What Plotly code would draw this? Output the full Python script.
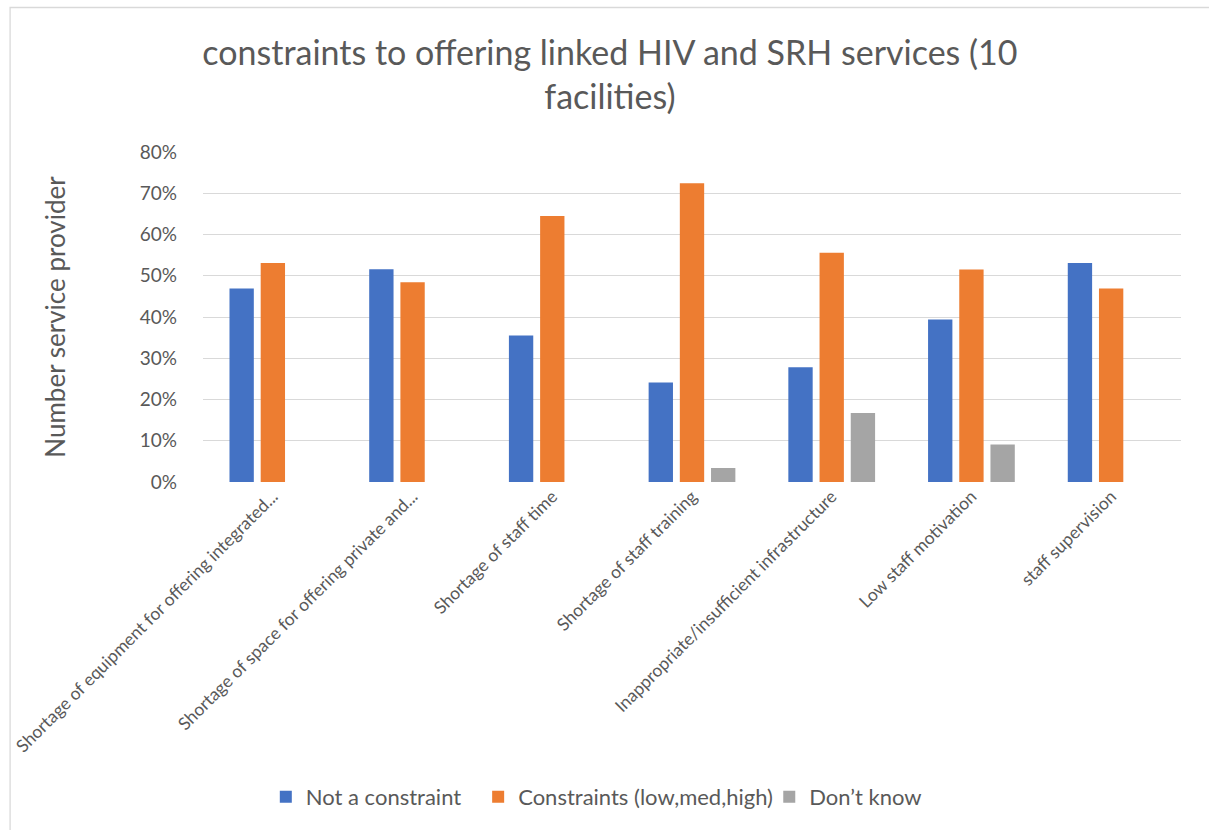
import plotly.graph_objects as go

categories = [
    "Shortage of equipment for offering integrated...",
    "Shortage of space for offering private and...",
    "Shortage of staff time",
    "Shortage of staff training",
    "Inappropriate/insufficient infrastructure",
    "Low staff motivation",
    "staff supervision",
]
not_a_constraint = [46.9, 51.6, 35.5, 24.1, 27.8, 39.4, 53.1]
constraints = [53.1, 48.4, 64.5, 72.4, 55.6, 51.5, 46.9]
dont_know = [None, None, None, 3.4, 16.7, 9.1, None]

series_names = ["Not a constraint", "Constraints (low,med,high)", "Don\u2019t know"]
series_colors = ["#4472C4", "#ED7D31", "#A5A5A5"]
y_ticks = [0, 10, 20, 30, 40, 50, 60, 70, 80]
y_tick_labels = [f"{v}%" for v in y_ticks]

FONT = "Lato, Calibri, 'Open Sans', sans-serif"
TEXT = "#595959"

# plot area in pixels: x 200..1181, y 152..482
PX_L, PX_W, PX_B, PX_H = 200, 981, 482, 330
legend_keys = ["legend", "legend2", "legend3"]
legend_left_px = [281, 494, 786]

fig = go.Figure()
for name, vals, color, lg in zip(series_names, [not_a_constraint, constraints, dont_know],
                                 series_colors, legend_keys):
    fig.add_trace(go.Bar(name=name, x=categories, y=vals, legend=lg,
                         marker=dict(color=color, line=dict(width=0))))

legend_style = dict(
    orientation="h",
    xanchor="left",
    y=-(797 - PX_B) / PX_H,
    yanchor="middle",
    font=dict(size=22, color=TEXT, family=FONT),
    itemwidth=30,
    bgcolor="rgba(0,0,0,0)",
)
legend_layout = {}
for lg, left in zip(legend_keys, legend_left_px):
    legend_layout[lg] = dict(legend_style, x=(left - 18 - PX_L) / PX_W)

fig.update_layout(
    width=1209,
    height=830,
    margin=dict(l=PX_L, r=1209 - PX_L - PX_W, t=152, b=830 - PX_B),
    paper_bgcolor="white",
    plot_bgcolor="white",
    barmode="group",
    bargap=0.33,
    bargroupgap=0.22,
    font=dict(family=FONT, color=TEXT),
    title=dict(
        text="constraints to offering linked HIV and SRH services (10<br>facilities)",
        font=dict(size=34, color=TEXT, family=FONT),
        x=0.5045,
        xanchor="center",
        y=1 - 65 / 830,
        yanchor="middle",
    ),
    showlegend=True,
    shapes=[
        dict(type="rect", xref="paper", yref="paper",
             x0=-(PX_L - 6.5) / PX_W, x1=(1215 - PX_L) / PX_W,
             y0=-(840 - PX_B) / PX_H, y1=1 + (152 - 7.5) / PX_H,
             line=dict(color="#D9D9D9", width=1.3), fillcolor="rgba(0,0,0,0)", layer="below"),
    ],
    **legend_layout,
)

fig.update_yaxes(
    range=[0, 80],
    tickvals=y_ticks,
    ticktext=y_tick_labels,
    showgrid=True,
    gridcolor="#D9D9D9",
    gridwidth=1.3,
    zeroline=False,
    showline=False,
    ticks="",
    ticklabelstandoff=25,
    tickfont=dict(size=19, color=TEXT, family=FONT),
    title=dict(text="Number service provider", font=dict(size=26, color=TEXT, family=FONT), standoff=66),
)
fig.update_xaxes(
    tickangle=-45,
    tickfont=dict(size=17.5, color=TEXT, family=FONT),
    showline=False,
    ticks="",
    showgrid=False,
)

fig.write_html("out.html")
